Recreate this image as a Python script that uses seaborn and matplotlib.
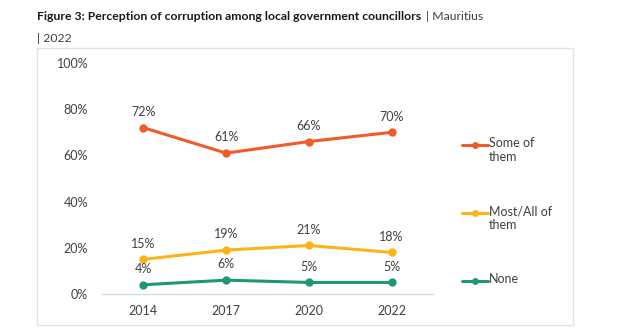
import matplotlib
matplotlib.use("Agg")
import matplotlib.pyplot as plt
import seaborn as sns
import pandas as pd
from matplotlib.lines import Line2D
from matplotlib.patches import Rectangle

years = ["2014", "2017", "2020", "2022"]
some_of_them = [72, 61, 66, 70]
most_all = [15, 19, 21, 18]
none_vals = [4, 6, 5, 5]
series_names = ["Some of\nthem", "Most/All of\nthem", "None"]
colors = ["#F15A29", "#FBB316", "#1C9A6C"]
yticks = [0, 20, 40, 60, 80, 100]

rows = []
for name, vals in zip(series_names, [some_of_them, most_all, none_vals]):
    for y, v in zip(years, vals):
        rows.append({"year": y, "value": v, "series": name})
df = pd.DataFrame(rows)

sns.set_theme(style="white")
plt.rcParams["font.family"] = ["Lato", "DejaVu Sans"]

fig = plt.figure(figsize=(6.2, 3.3), dpi=100)
ax = fig.add_axes([102 / 620, (330 - 294) / 330, (433 - 102) / 620, (294 - 63) / 330])

sns.lineplot(data=df, x="year", y="value", hue="series", palette=colors,
             marker="o", markersize=6, linewidth=2.2, markeredgewidth=0,
             sort=False, ax=ax, legend=False)

for name, vals, c in zip(series_names, [some_of_them, most_all, none_vals], colors):
    for i, v in enumerate(vals):
        ax.annotate(f"{v}%", (i, v), xytext=(0, 7), textcoords="offset points",
                    ha="center", va="bottom", fontsize=9, color="#404040")

ax.set_xlim(-0.5, 3.5)
ax.set_ylim(0, 100)
ax.set_yticks(yticks)
ax.set_yticklabels([f"{t}%" for t in yticks], fontsize=9, color="#404040")
ax.tick_params(axis="x", labelsize=9, colors="#404040", pad=8)
ax.tick_params(axis="y", pad=10, length=0)
ax.tick_params(axis="x", length=0)
ax.set_xlabel("")
ax.set_ylabel("")
for s in ["top", "right", "left"]:
    ax.spines[s].set_visible(False)
ax.spines["bottom"].set_color("#D9D9D9")
ax.spines["bottom"].set_linewidth(1)
ax.grid(False)

# frame box
fig.add_artist(Rectangle((37 / 620, (330 - 325) / 330), (573 - 37) / 620, (325 - 48) / 330,
                         transform=fig.transFigure, fill=False, edgecolor="#E2E2E2", linewidth=1))

# legend
leg_y = [145, 213, 281]
for name, c, yy in zip(series_names, colors, leg_y):
    yf = (330 - yy) / 330
    fig.add_artist(Line2D([462 / 620, 488 / 620], [yf, yf], color=c, linewidth=2.2,
                          transform=fig.transFigure))
    fig.add_artist(Line2D([475 / 620], [yf], color=c, marker="o", markersize=5,
                          markeredgewidth=0, transform=fig.transFigure))
    fig.text(489 / 620, (330 - yy + 8) / 330, name, fontsize=9, color="#404040", va="top", ha="left",
             linespacing=1.2, transform=fig.transFigure)

# title
t = fig.text(37 / 620, (330 - 17) / 330, "Figure 3: Perception of corruption among local government councillors",
             fontsize=8.8, fontweight="bold", color="#1a1a1a", va="center", ha="left")
fig.canvas.draw()
bb = t.get_window_extent()
fig.text(bb.x1 / 620 + 0.008, (330 - 17) / 330, "| Mauritius", fontsize=8.8, color="#404040",
         va="center", ha="left")
fig.text(37 / 620, (330 - 38) / 330, "| 2022", fontsize=8.8, color="#404040", va="center", ha="left")

fig.savefig("out.png", dpi=100)
